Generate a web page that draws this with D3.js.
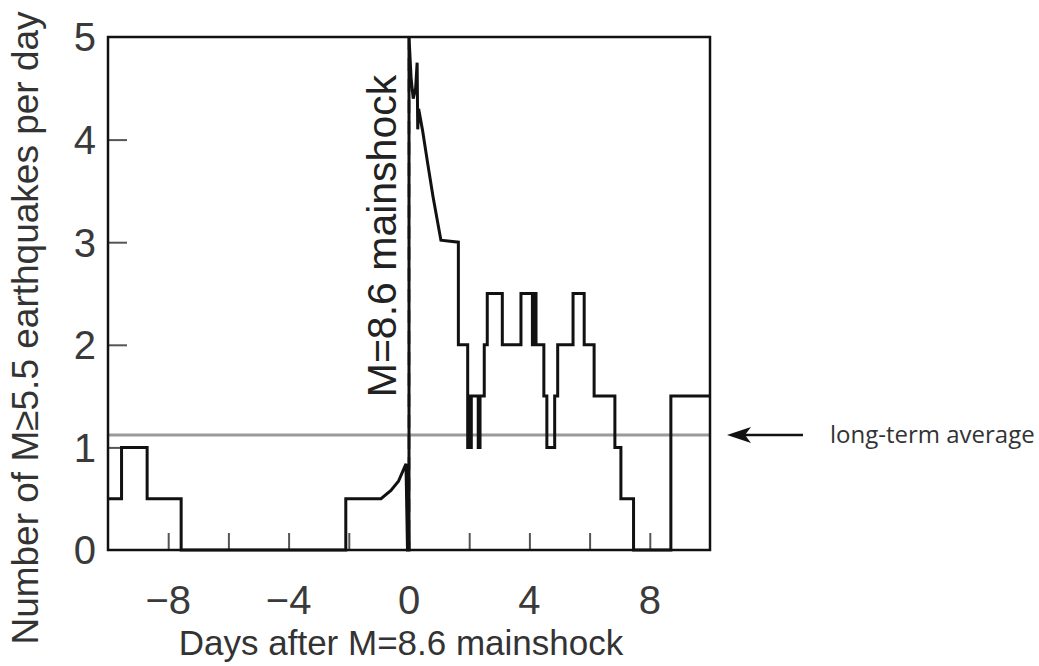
<!DOCTYPE html>
<html><head><meta charset="utf-8">
<script src="https://cdn.jsdelivr.net/npm/d3@7"></script>
<style>html,body{margin:0;padding:0;background:#fff;}svg{display:block;}</style>
</head><body>
<svg id="c" width="1039" height="666"></svg>
<script>
// ---- data ----
const days = [-10,-9.55,-9.55,-8.7,-8.7,-7.57,-7.57,-2.1,-2.1,-0.93,-0.6,-0.35,-0.1,-0.05,0,
  0,0.07,0.14,0.22,0.27,0.29,0.32,0.45,0.62,0.8,1.06,
  1.64,1.64,1.95,1.95,2.0,2.0,2.03,2.03,2.07,2.07,2.3,2.3,2.36,2.36,2.5,2.5,2.6,2.6,
  3.1,3.1,3.72,3.72,4.1,4.1,4.15,4.15,4.22,4.22,4.48,4.48,4.58,4.58,4.84,4.84,4.94,4.94,
  5.45,5.45,5.82,5.82,6.15,6.15,6.84,6.84,7.04,7.04,7.46,7.46,8.7,8.7,10];
const rate = [0.5,0.5,1,1,0.5,0.5,0,0,0.5,0.5,0.58,0.67,0.84,0,0,
  5,4.6,4.4,4.5,4.75,4.1,4.3,4.09,3.77,3.44,3.02,
  3,2,2,1,1,1.5,1.5,1,1,1.5,1.5,1,1,1.5,1.5,2,2,2.5,
  2.5,2,2,2.5,2.5,2,2,2.5,2.5,2,2,1.5,1.5,1,1,1.5,1.5,2,
  2,2.5,2.5,2,2,1.5,1.5,1,1,0.5,0.5,0,0,1.5,1.5];
const longTermAverage = 1.12;
const mainshockDay = 0;
const xTicks = [-8,-6,-4,-2,0,2,4,6,8];
const xTickLabels = [-8,-4,0,4,8];
const yTicks = [0,1,2,3,4,5];
const xTitle = "Days after M=8.6 mainshock";
const yTitle = "Number of M≥5.5 earthquakes per day";
const mainshockLabel = "M=8.6 mainshock";
const avgLabel = "long-term average";

// ---- layout ----
const L = 108, R = 710, T = 37, B = 550;
const svg = d3.select("#c");
const x = d3.scaleLinear().domain([-10,10]).range([L,R]);
const y = d3.scaleLinear().domain([0,5]).range([B,T]);
const font = "'Liberation Sans', Arial, Helvetica, sans-serif";

// long-term average
svg.append("line").attr("x1",L).attr("x2",R).attr("y1",y(longTermAverage)).attr("y2",y(longTermAverage))
  .attr("stroke","#9a9a9a").attr("stroke-width",3);

// ticks (inside)
const xAxis = d3.axisTop(x).tickValues(xTicks).tickSize(17).tickFormat("");
const gx = svg.append("g").attr("transform",`translate(0,${B})`).call(xAxis);
gx.select(".domain").remove();
gx.selectAll("line").attr("stroke","#555").attr("stroke-width",2);
const yAxis = d3.axisRight(y).tickValues(yTicks.filter(v=>v>0&&v<5)).tickSize(19).tickFormat("");
const gy = svg.append("g").attr("transform",`translate(${L},0)`).call(yAxis);
gy.select(".domain").remove();
gy.selectAll("line").attr("stroke","#555").attr("stroke-width",2);

// mainshock dashed line
svg.append("line").attr("x1",x(mainshockDay)).attr("x2",x(mainshockDay)).attr("y1",y(5)).attr("y2",y(0))
  .attr("stroke","#111").attr("stroke-width",2.5).attr("stroke-dasharray","13,8");

// data line
const pts = days.map((d,i)=>[d,rate[i]]);
svg.append("path").datum(pts)
  .attr("d", d3.line().x(d=>x(d[0])).y(d=>y(d[1])))
  .attr("fill","none").attr("stroke","#111").attr("stroke-width",3).attr("stroke-linejoin","miter");

// frame
svg.append("rect").attr("x",L).attr("y",T).attr("width",R-L).attr("height",B-T)
  .attr("fill","none").attr("stroke","#111").attr("stroke-width",2.5);

// tick labels
svg.selectAll(".xl").data(xTickLabels).enter().append("text")
  .attr("x",d=>x(d)).attr("y",614).attr("text-anchor","middle")
  .attr("font-family",font).attr("font-size",40).attr("fill","#3a3a3a")
  .text(d=> d<0 ? "\u2212"+Math.abs(d) : String(d));
svg.selectAll(".yl").data(yTicks).enter().append("text")
  .attr("x",96).attr("y",d=>y(d)).attr("dy","0.36em").attr("text-anchor","end")
  .attr("font-family",font).attr("font-size",40).attr("fill","#3a3a3a")
  .text(d=>d);

// titles
svg.append("text").attr("x",401).attr("y",655).attr("text-anchor","middle")
  .attr("font-family",font).attr("font-size",35).attr("fill","#333").text(xTitle);
svg.append("text").attr("transform","translate(38,328) rotate(-90)").attr("text-anchor","middle")
  .attr("font-family",font).attr("font-size",37).attr("fill","#333").text(yTitle);
svg.append("text").attr("transform","translate(396,236) rotate(-90)").attr("text-anchor","middle")
  .attr("font-family",font).attr("font-size",41).attr("fill","#222").text(mainshockLabel);

// arrow + label
const ay = y(longTermAverage);
svg.append("line").attr("x1",803).attr("x2",740).attr("y1",ay).attr("y2",ay)
  .attr("stroke","#111").attr("stroke-width",2.5);
svg.append("path").attr("d",`M727,${ay} L751,${ay-8} L745,${ay} L751,${ay+8} Z`).attr("fill","#111");
svg.append("text").attr("x",830).attr("y",ay).attr("dy","0.33em")
  .attr("font-family","'Open Sans', 'Noto Sans', sans-serif").attr("font-size",24).attr("fill","#333")
  .text(avgLabel);
</script>
</body></html>
